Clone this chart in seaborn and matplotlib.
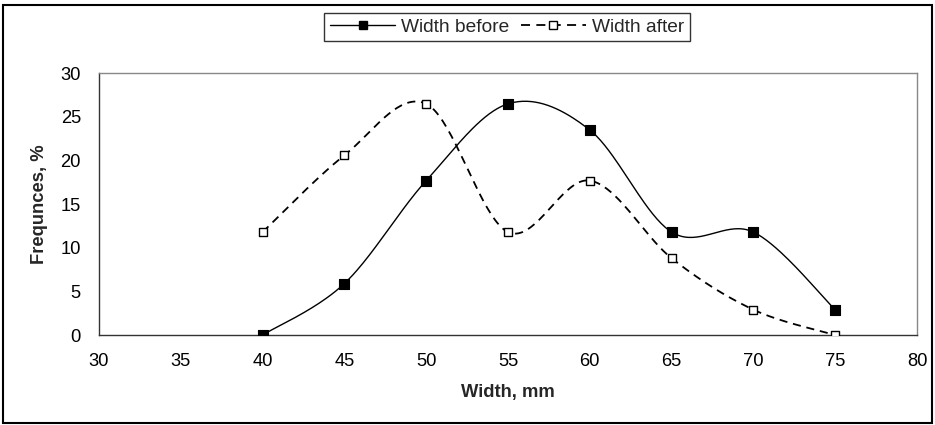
import numpy as np
import pandas as pd
import matplotlib
matplotlib.use("Agg")
import matplotlib.pyplot as plt
import seaborn as sns
from matplotlib.lines import Line2D
from matplotlib.patches import Rectangle

# ---- data ----
widths = [40, 45, 50, 55, 60, 65, 70, 75]
width_before = [0.0, 5.9, 17.7, 26.5, 23.5, 11.8, 11.8, 2.9]
width_after = [11.8, 20.6, 26.5, 11.8, 17.7, 8.8, 2.9, 0.0]
series_names = ["Width before", "Width after"]
x_ticks = [30, 35, 40, 45, 50, 55, 60, 65, 70, 75, 80]
y_ticks = [0, 5, 10, 15, 20, 25, 30]


def smooth(xs, ys, n=40):
    """Catmull-Rom style Bezier smoothing (like spreadsheet 'smoothed line')."""
    P = np.column_stack([xs, ys]).astype(float)
    m = len(P)
    out = []
    for i in range(m - 1):
        p0 = P[i - 1] if i > 0 else P[i]
        p1 = P[i]
        p2 = P[i + 1]
        p3 = P[i + 2] if i + 2 < m else P[i + 1]
        c1 = p1 + (p2 - p0) / 6.0
        c2 = p2 - (p3 - p1) / 6.0
        t = np.linspace(0, 1, n)[:, None]
        seg = ((1 - t) ** 3) * p1 + 3 * ((1 - t) ** 2) * t * c1 + 3 * (1 - t) * t ** 2 * c2 + t ** 3 * p2
        out.append(seg if i == 0 else seg[1:])
    arr = np.vstack(out)
    return arr[:, 0], arr[:, 1]


sns.set_theme(style="white")
plt.rcParams["font.family"] = ["Liberation Sans", "DejaVu Sans"]

FS = 13.2
fig = plt.figure(figsize=(9.35, 4.25), dpi=100)
ax = fig.add_axes([99 / 935, 1 - 335 / 425, (917 - 99) / 935, (335 - 73.3) / 425])

dash = (0, (4.5, 3.2))
sx, sy = smooth(widths, width_before)
df_b = pd.DataFrame({"x": sx, "y": sy})
sns.lineplot(data=df_b, x="x", y="y", sort=False, estimator=None, ax=ax,
             color="black", linewidth=1.0, linestyle="-")
sx2, sy2 = smooth(widths, width_after)
df_a = pd.DataFrame({"x": sx2, "y": sy2})
sns.lineplot(data=df_a, x="x", y="y", sort=False, estimator=None, ax=ax,
             color="black", linewidth=1.3, linestyle=dash)

pts_b = pd.DataFrame({"x": widths, "y": width_before})
pts_a = pd.DataFrame({"x": widths, "y": width_after})
sns.scatterplot(data=pts_b, x="x", y="y", ax=ax, marker="s", s=42,
                color="black", edgecolor="black", linewidth=0.8, zorder=5)
sns.scatterplot(data=pts_a, x="x", y="y", ax=ax, marker="s", s=36,
                facecolor="white", edgecolor="black", linewidth=1.0, zorder=5)

ax.set_xlim(30, 80)
ax.set_ylim(0, 30)
ax.set_xticks(x_ticks)
ax.set_yticks(y_ticks)
ax.tick_params(axis="x", direction="in", length=5, width=0.8, colors="black",
               labelsize=FS, pad=13)
ax.tick_params(axis="y", direction="out", length=5, width=0.8, colors="black",
               labelsize=FS, pad=8)
ax.set_xlabel("Width, mm", fontsize=FS, fontweight="bold", labelpad=10)
ax.set_ylabel("Frequnces, %", fontsize=FS, fontweight="bold", labelpad=9)

for side in ["left", "bottom"]:
    ax.spines[side].set_color("#333333")
    ax.spines[side].set_linewidth(1.0)
for side in ["top", "right"]:
    ax.spines[side].set_visible(True)
    ax.spines[side].set_color("#888888")
    ax.spines[side].set_linewidth(1.0)
ax.grid(False)

handles = [
    Line2D([0], [0], color="black", lw=1.0, ls="-", marker="s", markersize=5.5,
           markerfacecolor="black", markeredgecolor="black"),
    Line2D([0], [0], color="black", lw=1.3, ls=(0, (5, 3.5)), marker="s", markersize=5.5,
           markerfacecolor="white", markeredgecolor="black"),
]
leg = fig.legend(handles, series_names, loc="center", bbox_to_anchor=(507 / 935, 1 - 27 / 425),
                 ncol=2, frameon=True, fancybox=False, shadow=False, fontsize=FS + 0.6,
                 handlelength=3.4, handletextpad=0.3, columnspacing=0.6,
                 borderpad=0.3, borderaxespad=0, edgecolor="black")
leg.get_frame().set_linewidth(1.0)

fig.patches.append(Rectangle((3 / 935, 2 / 425), (932 - 3) / 935, (418) / 425,
                             transform=fig.transFigure, fill=False,
                             edgecolor="black", linewidth=1.5, zorder=10))

fig.savefig("out.png", dpi=100, facecolor="white")
